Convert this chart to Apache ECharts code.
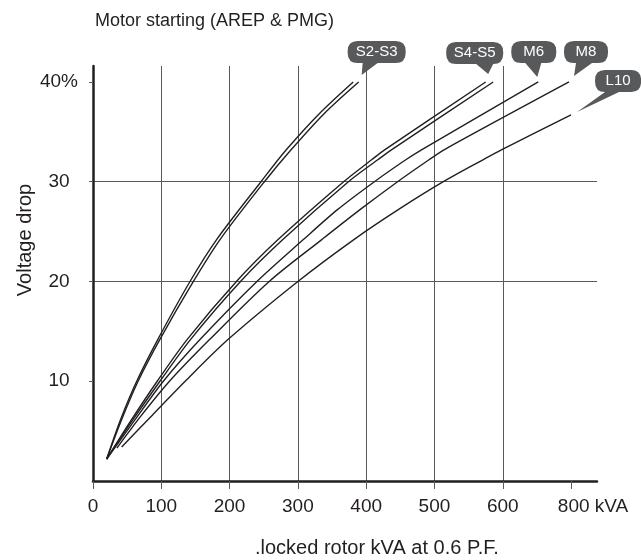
<!DOCTYPE html>
<html>
<head>
<meta charset="utf-8">
<script src="https://cdn.jsdelivr.net/npm/echarts@6/dist/echarts.min.js"></script>
<style>
    html, body { margin: 0; padding: 0; background: #fff; }
    #chart { width: 641px; height: 560px; }
</style>
</head>
<body>
<div id="chart"></div>
<script>
// [locked rotor kVA, voltage drop %]
var S2 = [[20, 2.2], [40, 6.1], [64, 10], [95, 14.2], [142, 20], [181, 24.2], [246, 30], [283, 33.2], [331, 36.8], [381, 40]];
var S3 = [[20, 2.2], [41, 6.0], [66, 10], [98, 14.2], [147, 20], [186, 24.2], [251, 30], [290, 33.2], [338, 36.8], [389, 40]];
var S4 = [[20, 2.2], [55, 6.0], [94, 10], [138, 14.2], [210, 20], [271, 24.2], [367, 30], [408, 32.2], [427, 33.2], [575, 40]];
var S5 = [[20, 2.2], [57, 6.0], [98, 10], [143, 14.2], [216, 20], [278, 24.2], [374, 30], [417, 32.2], [437, 33.2], [586, 40]];
var M6 = [[20, 2.2], [60, 6.0], [103, 10], [157, 14.2], [240, 20], [308, 24.2], [358, 27.2], [412, 30], [458, 32.2], [481, 33.2], [652, 40]];
var M8 = [[35, 3.3], [70, 6.5], [112, 10], [171, 14.2], [258, 20], [335, 24.2], [391, 27.2], [446, 30], [492, 32.2], [514, 33.2], [697, 40]];
var L10 = [[42, 3.4], [84, 6.4], [135, 10], [198, 14.2], [300, 20], [382, 24.2], [447, 27.2], [513, 30], [571, 32.2], [598, 33.2], [700, 36.7]];

var xTicks = [0, 100, 200, 300, 400, 500, 600, 700];
var xTickLabels = ['0', '100', '200', '300', '400', '500', '600', '800'];
var yTicks = [10, 20, 30, 40];
var yTickLabels = ['10', '20', '30', '40%'];

var INK = '#231f20';
var GRID = '#58595b';
var BUBBLE = '#58595b';
var FONT = '"Liberation Sans", Arial, sans-serif';

// speech bubble: w = body width, base = tail base on bottom edge,
// tip = tail tip (body-local px), gap = tip offset from the line end
function bubble(text, b) {
    var W = b.w, H = 22, r = 10, t = b.tip, s = b.base;
    var d = 'M' + r + ',0 L' + (W - r) + ',0 Q' + W + ',0 ' + W + ',' + r +
        ' L' + W + ',' + (H - r) + ' Q' + W + ',' + H + ' ' + (W - r) + ',' + H +
        ' L' + s[1] + ',' + H + ' L' + t[0] + ',' + t[1] + ' L' + s[0] + ',' + H +
        ' L' + r + ',' + H + ' Q0,' + H + ' 0,' + (H - r) + ' L0,' + r + ' Q0,0 ' + r + ',0 Z';
    var x0 = Math.min(0, t[0]), x1 = Math.max(W, t[0]), y1 = Math.max(H, t[1]);
    var cx = (x0 + x1) / 2, cy = y1 / 2;
    return {
        symbol: 'path://' + d,
        symbolSize: [x1 - x0, y1],
        symbolOffset: [b.gap[0] + cx - t[0], b.gap[1] + cy - t[1]],
        itemStyle: { color: BUBBLE },
        label: {
            show: true,
            position: 'inside',
            formatter: text,
            color: '#fff',
            fontSize: 15,
            fontFamily: FONT,
            offset: [W / 2 - cx, H / 2 - cy]
        },
        silent: true,
        animation: false
    };
}

function line(name, data, tag) {
    var s = {
        name: name,
        type: 'line',
        data: data,
        smooth: 0.3,
        symbol: 'none',
        lineStyle: { color: INK, width: 1.4 },
        silent: true,
        animation: false,
        z: 3
    };
    if (tag) {
        var mp = bubble(tag.text, tag);
        mp.data = [{ coord: data[data.length - 1] }];
        s.markPoint = mp;
    }
    return s;
}

var chart = echarts.init(document.getElementById('chart'));
chart.setOption({
    backgroundColor: '#fff',
    animation: false,
    title: [
        {
            text: 'Motor starting (AREP & PMG)',
            left: 90, top: 7,
            textStyle: { fontSize: 18, fontWeight: 'normal', color: INK, fontFamily: FONT }
        },
        {
            text: '.locked rotor kVA at 0.6 P.F.',
            left: 250, top: 533,
            textStyle: { fontSize: 20, fontWeight: 'normal', color: INK, fontFamily: FONT }
        }
    ],
    graphic: [{
        type: 'text',
        x: 25, y: 240,
        rotation: Math.PI / 2,
        style: {
            text: 'Voltage drop',
            font: '20px ' + FONT,
            fill: INK,
            align: 'center',
            verticalAlign: 'middle'
        }
    }],
    grid: { left: 93, top: 66, width: 504, height: 415, containLabel: false, outerBoundsMode: 'none' },
    xAxis: {
        type: 'value',
        min: 0, max: 738, interval: 100,
        axisLine: { show: true, onZero: false, lineStyle: { color: INK, width: 2.5 } },
        axisTick: { show: true, length: 8, customValues: xTicks, lineStyle: { color: GRID, width: 1 } },
        axisLabel: {
            customValues: xTicks,
            margin: 16,
            fontSize: 19,
            color: INK,
            fontFamily: FONT,
            formatter: function (v) {
                var i = xTicks.indexOf(v);
                if (i === xTicks.length - 1) return '{u|' + xTickLabels[i] + ' kVA}';
                return i < 0 ? '' : xTickLabels[i];
            },
            rich: {
                u: { fontSize: 19, color: INK, fontFamily: FONT, padding: [0, 0, 0, 44] }
            }
        },
        splitLine: { show: true, showMinLine: false, showMaxLine: false, lineStyle: { color: GRID, width: 1 } }
    },
    yAxis: {
        type: 'value',
        min: 0, max: 41.6, interval: 10,
        axisLine: { show: true, lineStyle: { color: INK, width: 2.5 } },
        axisTick: { show: true, length: 4, customValues: yTicks, lineStyle: { color: GRID, width: 1 } },
        axisLabel: {
            customValues: yTicks,
            margin: 34,
            align: 'center',
            verticalAlign: 'middle',
            padding: [0, 0, 13, 0],
            fontSize: 19,
            color: INK,
            fontFamily: FONT,
            formatter: function (v) {
                var i = yTicks.indexOf(v);
                return i < 0 ? '' : yTickLabels[i];
            }
        },
        splitLine: { show: true, showMinLine: false, showMaxLine: false, lineStyle: { color: GRID, width: 1 } }
    },
    series: [
        line('S2', S2),
        line('S3', S3, { text: 'S2-S3', w: 58, base: [15, 30], tip: [14, 34], gap: [3, -7] }),
        line('S4', S4),
        line('S5', S5, { text: 'S4-S5', w: 57, base: [30, 47], tip: [42, 32], gap: [-5, -8] }),
        line('M6', M6, { text: 'M6', w: 45, base: [14, 30], tip: [26, 36], gap: [-1, -5] }),
        line('M8', M8, { text: 'M8', w: 44, base: [12, 28], tip: [10, 35], gap: [5, -6] }),
        line('L10', L10, { text: 'L10', w: 46, base: [10, 24], tip: [-18, 42], gap: [6, -3] })
    ]
});
</script>
</body>
</html>
